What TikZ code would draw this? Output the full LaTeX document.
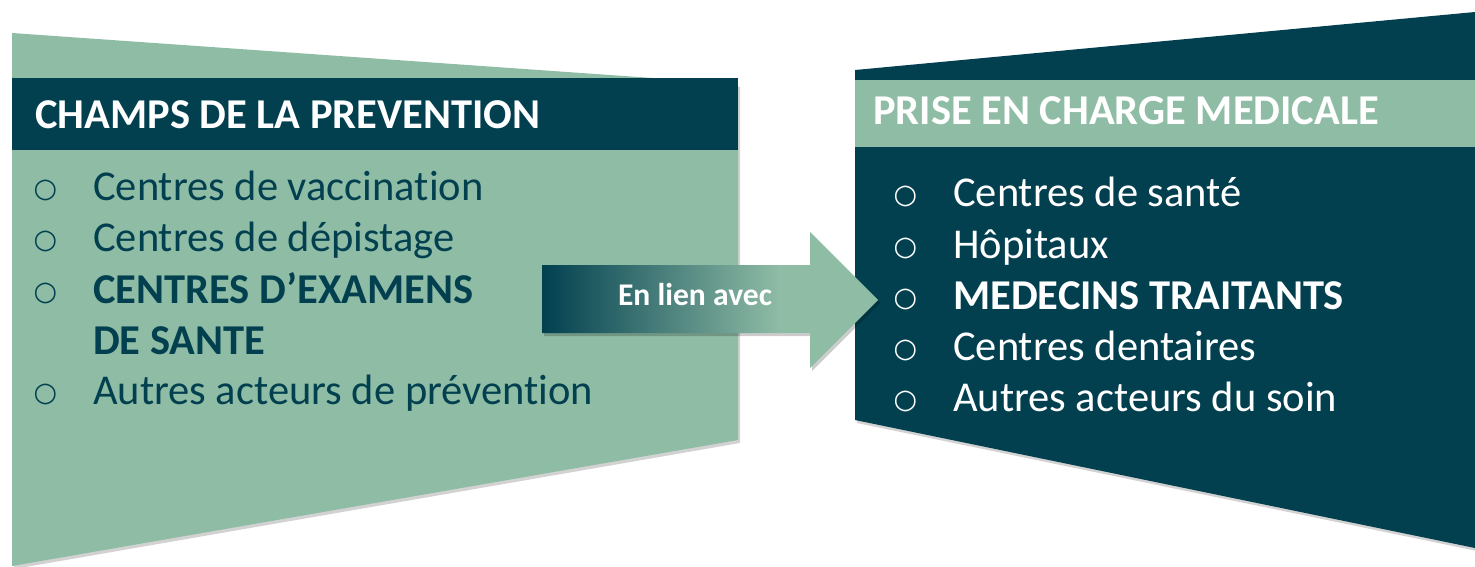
\documentclass[tikz,border=0pt]{standalone}
\usepackage{fontspec}
\setmainfont{Carlito}[Ligatures=NoCommon]
\newfontfamily\bulfont{DejaVu Sans}
\usetikzlibrary{shadows}
\definecolor{sage}{RGB}{143,188,165}
\definecolor{dkteal}{RGB}{2,64,80}
\tikzset{
  softshadow/.style={drop shadow={shadow xshift=2pt,shadow yshift=-3pt,opacity=0.25,fill=black!70}},
  txt/.style={anchor=base west,inner sep=0pt,font=\fontsize{42.5}{51}\selectfont},
  hdr/.style={anchor=base west,inner sep=0pt,text=white,font=\fontsize{42.5}{51}\selectfont\bfseries},
  bul/.style={anchor=center,inner sep=0pt,font=\fontsize{27}{32}\bulfont},
}
\begin{document}
\begin{tikzpicture}[x=1pt,y=-1pt]
\useasboundingbox (0,0) rectangle (1475,566);
% left panel
\fill[sage,softshadow] (12,33) -- (738,84) -- (738,440) -- (12,566) -- cycle;
\fill[dkteal] (12,78) rectangle (738,150);
\node[hdr] (lh) at (35,128) {CHAMPS DE LA PREVENTION};
\begin{scope}[every node/.append style={text=dkteal}]
\node[bul] (lb1) at (45.5,190.5) {○};
\node[txt] (l1) at (93,200) {Centres de vaccination};
\node[bul] (lb2) at (45.5,241.5) {○};
\node[txt] (l2) at (93,251) {Centres de dépistage};
\node[bul] (lb3) at (45.5,293.5) {○};
\node[txt,font=\fontsize{42.5}{51}\selectfont\bfseries] (l3) at (93,303) {CENTRES D’EXAMENS};
\node[txt,font=\fontsize{42.5}{51}\selectfont\bfseries] (l4) at (93,354) {DE SANTE};
\node[bul] (lb5) at (45.5,394.5) {○};
\node[txt] (l5) at (93,404) {Autres acteurs de prévention};
\end{scope}
% right panel
\fill[dkteal,softshadow] (855,70) -- (1475,12) -- (1475,548) -- (855,420) -- cycle;
\fill[sage] (855,80) rectangle (1475,147);
\node[hdr] (rh) at (873,124) {PRISE EN CHARGE MEDICALE};
\begin{scope}[every node/.append style={text=white}]
\node[bul] (rb1) at (905.5,196.5) {○};
\node[txt] (r1) at (953,206) {Centres de santé};
\node[bul] (rb2) at (905.5,248.5) {○};
\node[txt] (r2) at (953,258) {Hôpitaux};
\node[bul] (rb3) at (905.5,299.5) {○};
\node[txt,font=\fontsize{42.5}{51}\selectfont\bfseries] (r3) at (953,309) {MEDECINS TRAITANTS};
\node[bul] (rb4) at (905.5,350.5) {○};
\node[txt] (r4) at (953,360) {Centres dentaires};
\node[bul] (rb5) at (905.5,401.5) {○};
\node[txt] (r5) at (953,411) {Autres acteurs du soin};
\end{scope}
% arrow
\fill[black,opacity=0.2] (544,268) -- (812,268) -- (812,235) -- (880,303) -- (812,371) -- (812,336) -- (544,336) -- cycle;
\begin{scope}
\clip (542,265) -- (810,265) -- (810,232) -- (878,300) -- (810,368) -- (810,333) -- (542,333) -- cycle;
\shade[left color=dkteal,right color=sage] (542,220) rectangle (780,380);
\fill[sage] (779,220) rectangle (890,380);
\end{scope}
\node[anchor=base,inner sep=0pt,text=white,font=\fontsize{31.6}{38}\selectfont\bfseries] (lien) at (695,305) {En lien avec};
\end{tikzpicture}
\end{document}
